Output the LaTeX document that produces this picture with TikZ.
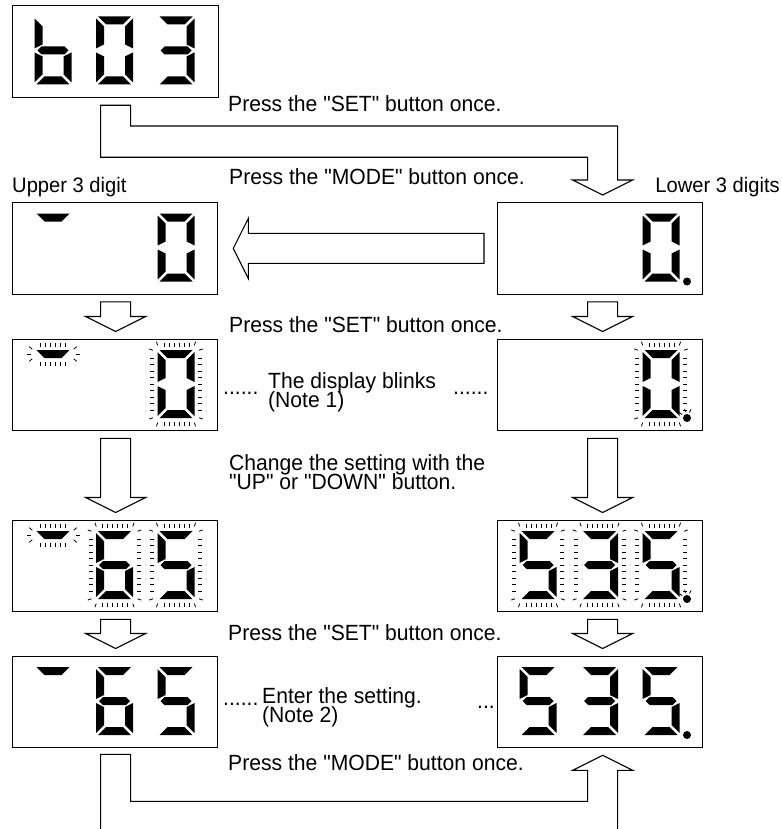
\documentclass[tikz,border=0pt]{standalone}
\usepackage{fontspec}
\setmainfont{Liberation Sans}[Ligatures=TeXOff, FakeStretch=0.96]
\usetikzlibrary{calc}

% seven-segment pieces, digit box 37 x 68, origin top-left, y downwards
\newcommand\SGa{\fill (2,0) -- (35,0) -- (27,8) -- (10,8) -- cycle;}
\newcommand\SGb{\fill (37,2) -- (37,32) -- (29,28) -- (29,10) -- cycle;}
\newcommand\SGc{\fill (37,36) -- (37,66) -- (29,58) -- (29,40) -- cycle;}
\newcommand\SGd{\fill (2,68) -- (35,68) -- (27,60) -- (10,60) -- cycle;}
\newcommand\SGe{\fill (0,36) -- (0,66) -- (8,58) -- (8,40) -- cycle;}
\newcommand\SGf{\fill (0,2) -- (0,32) -- (8,28) -- (8,10) -- cycle;}
\newcommand\SGg{\fill (3,34) -- (7,30) -- (30,30) -- (34,34) -- (30,38) -- (7,38) -- cycle;}
\newcommand\sevdigit[3]{\begin{scope}[shift={(#1,#2)}]\foreach \s in {#3}{\csname SG\s\endcsname}\end{scope}}
\newcommand\blinkdigit[2]{\begin{scope}[shift={(#1,#2)},blinktick]
  \foreach \x in {6.5,11.5,...,31.5}{\draw (\x,-3.5) -- (\x,-7.5); \draw (\x,71.5) -- (\x,75.5);}
  \foreach \y in {8,14.5,...,60.5}{\draw (-3.5,\y) -- (-7.5,\y); \draw (40.5,\y) -- (44.5,\y);}
  \foreach \a in {200,250}{\draw ([shift={(\a:8)}]3,3) -- ([shift={(\a:12)}]3,3);}
  \foreach \a in {290,340}{\draw ([shift={(\a:8)}]34,3) -- ([shift={(\a:12)}]34,3);}
  \foreach \a in {20,70}{\draw ([shift={(\a:8)}]34,65) -- ([shift={(\a:12)}]34,65);}
  \foreach \a in {110,160}{\draw ([shift={(\a:8)}]3,65) -- ([shift={(\a:12)}]3,65);}
\end{scope}}
\newcommand\blinkseg[2]{\begin{scope}[shift={(#1+18.5,#2+4)},blinktick]
  \foreach \x in {-12.5,-7.5,...,12.5}{\draw (\x,-7.5) -- (\x,-11.5); \draw (\x,7.5) -- (\x,11.5);}
  \foreach \a in {140,180,220}{\draw ([shift={(\a:7.5)}]-15,0) -- ([shift={(\a:11.5)}]-15,0);}
  \foreach \a in {-40,0,40}{\draw ([shift={(\a:7.5)}]15,0) -- ([shift={(\a:11.5)}]15,0);}
\end{scope}}
\newcommand\blinkdot[2]{\begin{scope}[shift={(#1,#2)},blinktick]
  \foreach \a in {215,255,295}{\draw (\a:6) -- (\a:9.5);}
\end{scope}}
\newcommand\blockdown[3]{%
  \draw[blk] ($(#1.south)+(#3-15,7)$) -- ($(#1.south)+(#3+15,7)$)
    -- ($(#2.north)+(#3+15,-22)$) -- ($(#2.north)+(#3+30,-22)$)
    -- ($(#2.north)+(#3,-7)$) -- ($(#2.north)+(#3-30,-22)$)
    -- ($(#2.north)+(#3-15,-22)$) -- cycle;}

\tikzset{
  box/.style={draw, line width=1.3pt, minimum width=205pt, minimum height=91.5pt, inner sep=0pt, anchor=north west},
  blk/.style={draw, line width=1.1pt, fill=white, line join=miter},
  txt/.style={anchor=base west, inner sep=0pt, font=\fontsize{22}{18}\selectfont},
  lbl/.style={txt, font=\fontsize{21}{18}\selectfont},
  blinktick/.style={line width=0.8pt},
}

\begin{document}
\begin{tikzpicture}[x=1pt,y=-1pt]
\useasboundingbox (0,0) rectangle (781,829);

% display boxes
\node[box, minimum width=206pt, minimum height=92pt] (T) at (12,5) {};
\node[box] (L2) at (12,202) {};
\node[box] (R2) at (497,202) {};
\node[box] (L3) at (12,338.5) {};
\node[box] (R3) at (497,338.5) {};
\node[box] (L4) at (12,519.5) {};
\node[box] (R4) at (497,519.5) {};
\node[box] (L5) at (12,655.5) {};
\node[box] (R5) at (497,655.5) {};

% top display: b03
\sevdigit{34.5}{16.5}{c,d,e,f,g}
\sevdigit{96}{16.5}{a,b,c,d,e,f}
\sevdigit{157.5}{16.5}{a,b,c,d,g}

% row 2
\sevdigit{34.5}{213.5}{a}
\sevdigit{157.5}{213.5}{a,b,c,d,e,f}
\sevdigit{642.5}{213.5}{a,b,c,d,e,f}
\fill (687,281.5) circle (4);

% row 3 (blinking)
\sevdigit{34.5}{350}{a}\blinkseg{34.5}{350}
\sevdigit{157.5}{350}{a,b,c,d,e,f}\blinkdigit{157.5}{350}
\sevdigit{642.5}{350}{a,b,c,d,e,f}\blinkdigit{642.5}{350}
\fill (687,418) circle (4);\blinkdot{687}{418}

% row 4 (blinking)
\sevdigit{34.5}{531}{a}\blinkseg{34.5}{531}
\sevdigit{96}{531}{a,c,d,e,f,g}\blinkdigit{96}{531}
\sevdigit{157.5}{531}{a,c,d,f,g}\blinkdigit{157.5}{531}
\sevdigit{519.5}{531}{a,c,d,f,g}\blinkdigit{519.5}{531}
\sevdigit{581}{531}{a,b,c,d,g}\blinkdigit{581}{531}
\sevdigit{642.5}{531}{a,c,d,f,g}\blinkdigit{642.5}{531}
\fill (687,599) circle (4);\blinkdot{687}{599}

% row 5
\sevdigit{34.5}{667}{a}
\sevdigit{96}{667}{a,c,d,e,f,g}
\sevdigit{157.5}{667}{a,c,d,f,g}
\sevdigit{519.5}{667}{a,c,d,f,g}
\sevdigit{581}{667}{a,b,c,d,g}
\sevdigit{642.5}{667}{a,c,d,f,g}
\fill (687,735) circle (4);

% bent arrow from top display to lower 3 digits
\draw[blk] ($(T.south)+(-15,7)$) -- ($(T.south)+(15,7)$) |- ($(R2.north)+(17.5,-76)$)
  -- ($(R2.north)+(17.5,-22)$) -- ($(R2.north)+(32.5,-22)$) -- ($(R2.north)+(2.5,-7)$)
  -- ($(R2.north)+(-27.5,-22)$) -- ($(R2.north)+(-12.5,-22)$) |- ($(T.south)+(-15,59)$) -- cycle;

% big left arrow (MODE)
\draw[blk] ($(R2.west)+(-13,-15)$) -- ($(L2.east)+(30,-15)$) -- ($(L2.east)+(30,-30)$)
  -- ($(L2.east)+(15,0)$) -- ($(L2.east)+(30,30)$) -- ($(L2.east)+(30,15)$)
  -- ($(R2.west)+(-13,15)$) -- cycle;

% down arrows
\blockdown{L2}{L3}{0.5}
\blockdown{R2}{R3}{2.5}
\blockdown{L3}{L4}{0.5}
\blockdown{R3}{R4}{2.5}
\blockdown{L4}{L5}{0.5}
\blockdown{R4}{R5}{2.5}

% bottom bent arrow (MODE)
\draw[blk, fill=none] ($(L5.south)+(-14.5,82)$) -- ($(L5.south)+(-14.5,6)$) -- ($(L5.south)+(15.5,6)$)
  |- ($(R5.south)+(-12.5,53)$) -- ($(R5.south)+(-12.5,22)$) -- ($(R5.south)+(-27.5,22)$)
  -- ($(R5.south)+(2.5,7)$) -- ($(R5.south)+(32.5,22)$) -- ($(R5.south)+(17.5,22)$)
  -- ($(R5.south)+(17.5,82)$);

% texts
\node[txt] (t1) at (228,112) {Press the "SET" button once.};
\node[lbl] (t2) at (12,193) {Upper 3 digit};
\node[txt] (t3) at (229,185) {Press the "MODE" button once.};
\node[lbl, anchor=base east] (t4) at (780,193) {Lower 3 digits};
\node[txt] (t5) at (229,332) {Press the "SET" button once.};
\node[txt] (d1) at (223,394) {......};
\node[txt] (t6) at (268,388) {The display blinks};
\node[txt] (t7) at (268,407) {(Note 1)};
\node[txt] (d2) at (453,394) {......};
\node[txt] (t8) at (229,470) {Change the setting with the};
\node[txt] (t9) at (229,489) {"UP" or "DOWN" button.};
\node[txt] (t10) at (228,640) {Press the "SET" button once.};
\node[txt] (d3) at (223,705) {......};
\node[txt] (t11) at (262,703) {Enter the setting.};
\node[txt] (t12) at (262,722) {(Note 2)};
\node[txt] (d4) at (477,708) {...};
\node[txt] (t13) at (228,770) {Press the "MODE" button once.};
\end{tikzpicture}
\end{document}
